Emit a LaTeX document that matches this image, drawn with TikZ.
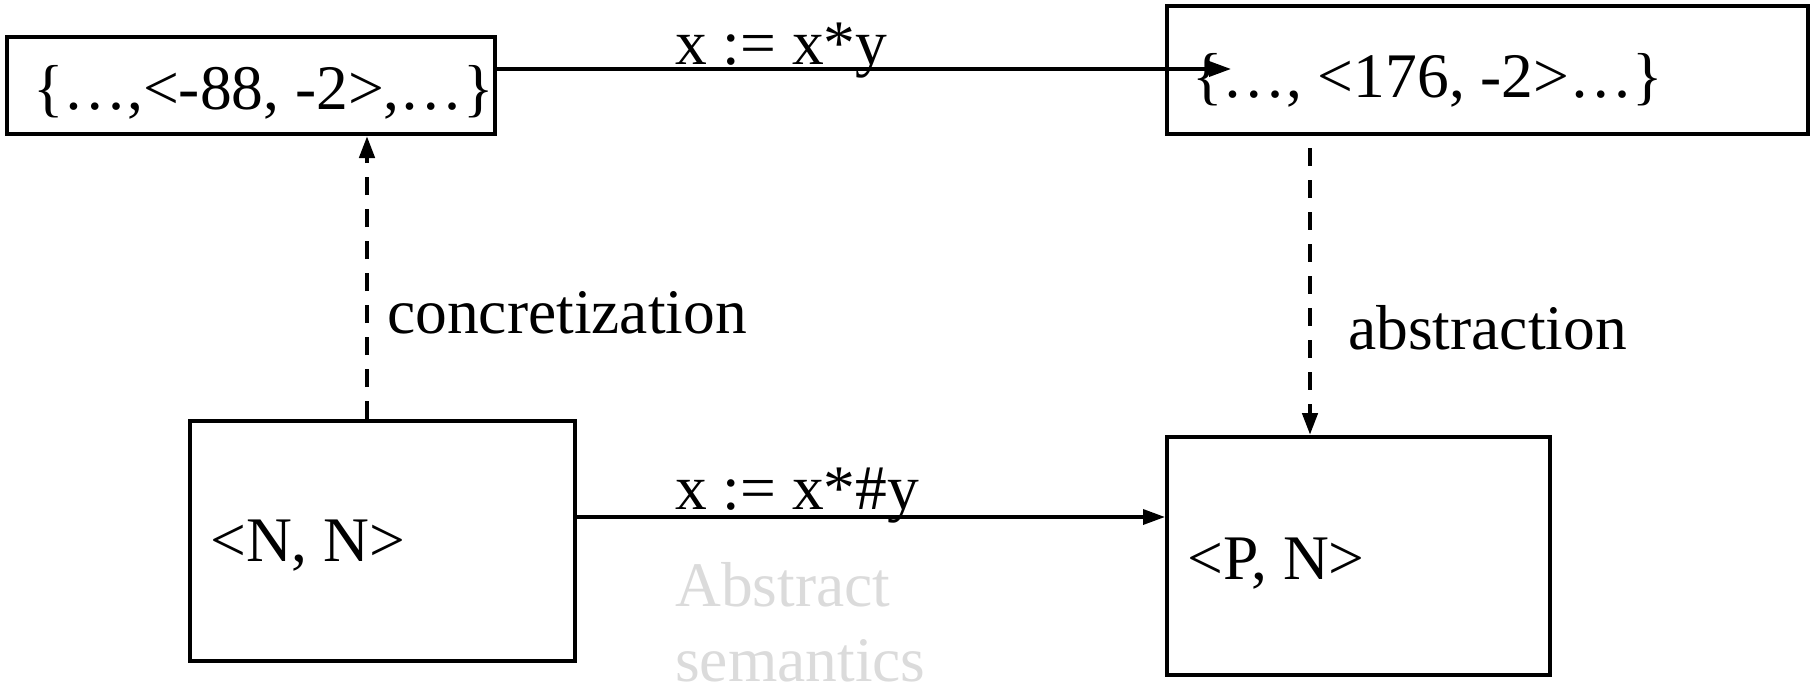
\documentclass[tikz,border=0pt]{standalone}
\usepackage{fontspec}
\setmainfont{Liberation Serif}
\usetikzlibrary{arrows.meta}
\begin{document}
\begin{tikzpicture}[x=1pt,y=-1pt,
  box/.style={draw=black,line width=4pt,inner sep=0pt,minimum width=#1},
  txt/.style={inner sep=0pt,font=\fontsize{63.5}{74}\selectfont},
  arr/.style={line width=3.5pt,-{Triangle[length=22pt,width=15pt]}},
  dasharr/.style={arr,line width=4.5pt,dash pattern=on 18pt off 14pt}]
\useasboundingbox (0,0) rectangle (1810,685);
% boxes
\node[box=488,minimum height=97] (A) at (251,85.5) {};
\node[box=641,minimum height=128] (B) at (1487.5,70) {};
\node[box=385,minimum height=240] (C) at (382.5,541) {};
\node[box=383,minimum height=238] (D) at (1358.5,556) {};
% box texts
\node[txt,anchor=west] (At) at (33,92) {\{…,<-88, -2>,…\}};
\node[txt,anchor=west] (Bt) at (1192,80) {\{…, <176, -2>…\}};
\node[txt,anchor=west] (Ct) at (210,546) {<N, N>};
\node[txt,anchor=west] (Dt) at (1187,564) {<P, N>};
% connectors
\coordinate (Bin) at (1231,69);
\draw[arr] (A.east |- Bin) -- (Bin);
\draw[arr] (C.east |- 0,517) -- (D.west |- 0,517);
\draw[dasharr] (C.north -| 367,0) -- (A.south -| 367,0);
\coordinate (Bout) at (1310,148);
\draw[dasharr] (Bout) -- (D.north -| Bout);
% labels
\node[txt,anchor=base west] (l1) at (675,64) {x := x*y};
\node[txt,anchor=base west] (l2) at (675,509) {x := x*\#y};
\node[txt,anchor=base west] (l3) at (387,333) {concretization};
\node[txt,anchor=base west] (l4) at (1348,349) {abstraction};
\node[txt,anchor=base west,text=black!14,align=left] (l5) at (675,606) {Abstract};
\node[txt,anchor=base west,text=black!14] (l6) at (675,681) {semantics};
\end{tikzpicture}
\end{document}
